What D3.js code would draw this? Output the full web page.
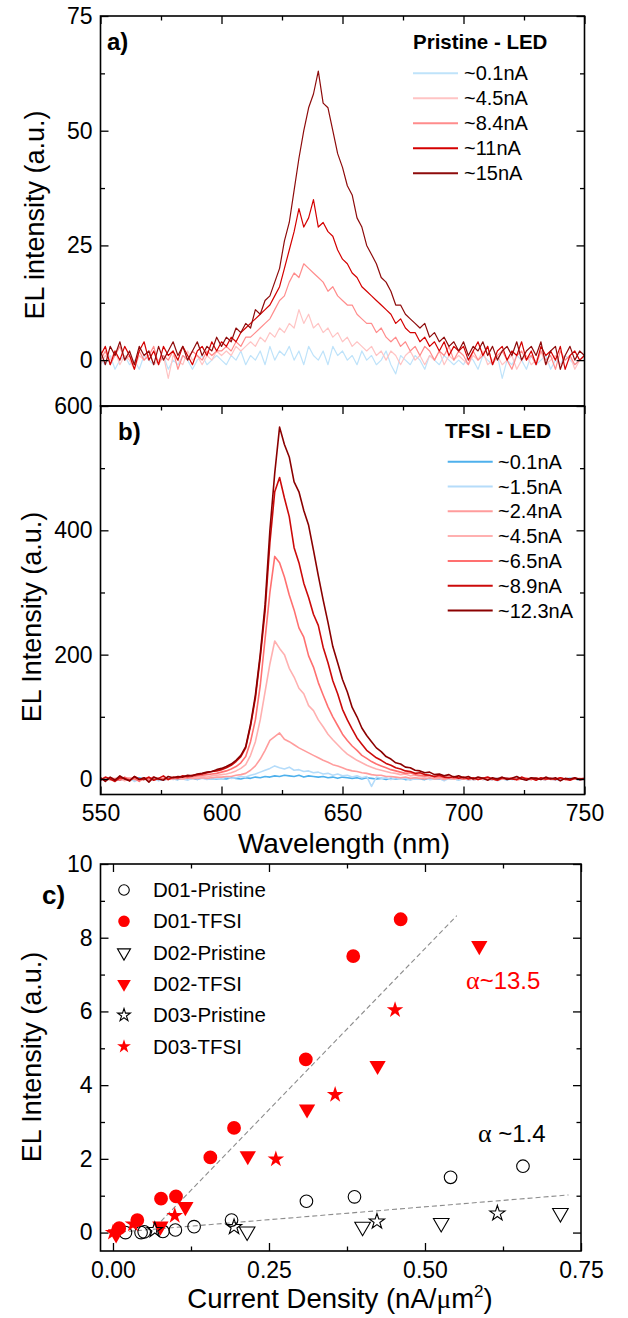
<!DOCTYPE html>
<html><head><meta charset="utf-8">
<script src="https://cdn.jsdelivr.net/npm/d3@7"></script>
<style>body{margin:0;background:#fff}svg{display:block}</style>
</head><body><svg id="chart" width="628" height="1318"></svg>
<script>
// ---------- DATA ----------
const wavelength = [550,552,554,556,558,560,562,564,566,568,570,572,574,576,578,580,582,584,586,588,590,592,594,596,598,
600,602,604,606,608,610,612,614,616,618,620,622,624,626,628,630,632,634,636,638,640,642,644,646,648,
650,652,654,656,658,660,662,664,666,668,670,672,674,676,678,680,682,684,686,688,690,692,694,696,698,
700,702,704,706,708,710,712,714,716,718,720,722,724,726,728,730,732,734,736,738,740,742,744,746,748,750];

// Panel a: Pristine LED spectra
const pristineLabels = ["~0.1nA","~4.5nA","~8.4nA","~11nA","~15nA"];
const pristineColors = ["#bfe3fa","#ffc4c4","#ff8c8c","#d40000","#8e0b0b"];
const pristine_0_1nA = [0,-1,1,-2,0,1,-1,0,-2,1,0,-1,0,1,-2,0,-1,1,0,-2,0,1,-1,0,1,
0,-1,1,0,2,-1,1,0,2,-1,3,0,2,1,3,0,2,-1,3,1,0,2,-1,3,1,2,0,1,-1,2,0,1,-1,0,2,-1,-3,1,0,-1,1,0,-2,1,0,-1,1,0,-1,0,
-1,1,0,-2,1,0,-1,1,-4,0,-1,1,0,-2,1,-1,0,1,-2,0,-1,1,0,-1,0,1];
const pristine_4_5nA = [-1,1,0,2,-1,1,0,-2,1,0,2,-1,0,1,-4,1,0,-1,2,0,1,-1,1,0,2,
1,2,1,3,2,3,4,3,5,4,6,5,7,6,8,7,11,8,10,7,8,6,7,5,6,4,5,3,4,3,2,3,1,2,0,2,1,-1,1,2,0,1,-1,1,0,2,-1,1,0,1,
0,-1,1,0,2,-1,0,1,-1,0,1,-2,0,1,-1,0,2,-1,0,1,-1,0,1,-2,0,1];
const pristine_8_4nA = [0,2,-1,1,3,0,1,-1,2,0,1,3,-1,1,0,2,-2,1,0,2,1,0,2,1,2,
2,3,2,4,3,5,5,6,7,8,9,11,13,14,17,19,18,21,20,19,18,17,15,16,14,13,12,12,10,9,8,8,6,7,5,4,5,3,4,2,3,1,3,2,0,2,1,3,0,2,
1,-1,2,0,1,3,-1,1,2,0,-2,1,2,0,1,-1,2,0,1,-2,2,0,1,-1,0,1];
const pristine_11nA = [1,3,-1,2,0,3,1,-2,2,4,0,2,-1,3,1,2,0,3,1,-1,2,3,1,4,2,
4,3,5,4,6,7,8,9,10,11,12,14,16,20,24,28,33,29,31,35,29,30,28,27,24,22,21,19,18,16,15,14,13,12,11,10,8,9,7,6,6,4,5,3,4,2,4,1,3,2,
3,0,2,4,1,3,-1,2,3,0,2,1,4,0,2,-1,3,1,2,0,3,-2,1,2,0,1];
const pristine_15nA = [2,-1,3,1,4,0,2,-1,3,1,2,-1,3,0,2,4,1,3,0,2,4,1,3,2,5,
3,5,4,7,6,8,7,11,10,13,14,17,20,26,30,37,44,50,55,58,63,56,55,50,45,42,38,36,31,29,25,23,21,18,17,15,12,12,10,9,8,7,8,5,6,4,5,3,4,2,
4,1,3,2,4,1,3,0,2,3,1,4,0,2,3,1,4,-1,2,3,-2,1,3,0,2,1];

// Panel b: TFSI LED spectra
const tfsiLabels = ["~0.1nA","~1.5nA","~2.4nA","~4.5nA","~6.5nA","~8.9nA","~12.3nA"];
const tfsiColors = ["#4eb0ec","#b5dcfa","#ff9c9c","#ffb0b0","#ff7070","#cc0a0a","#8b0000"];
const tfsi_0_1nA = [0,-1,1,0,-2,1,0,-1,2,0,-1,1,0,-2,1,0,-1,1,0,1,-1,2,0,1,0,
1,0,2,1,0,2,1,3,2,4,3,5,4,6,5,4,6,3,5,4,3,4,2,3,1,3,2,1,2,0,2,1,0,1,-1,1,0,1,-1,0,1,0,-1,1,0,0,-1,1,0,-1,
0,1,-1,0,1,0,-1,1,0,-1,0,1,0,-1,1,0,0,-1,1,0,-1,0,1,0,-1,0];
const tfsi_1_5nA = [-3,2,-1,0,3,-2,1,-4,0,2,-1,1,-3,0,2,-1,1,0,-2,2,0,1,-1,2,1,
0,3,1,2,4,3,6,8,11,14,17,21,18,16,19,14,15,12,13,10,11,8,9,6,8,5,6,3,5,2,4,-12,3,1,2,-1,2,0,1,-2,1,0,2,-1,0,1,-3,1,0,-1,
1,-2,0,2,-1,0,1,-3,0,2,-1,0,1,-2,0,1,-1,2,0,-2,1,0,-1,1,0,-1];
const tfsi_2_4nA = [-1,1,0,-2,1,0,2,-1,0,1,-2,0,1,-1,0,0,1,0,2,1,1,2,1,2,3,
3,4,4,6,7,9,14,21,32,46,62,68,74,64,60,55,50,46,42,38,34,30,27,23,21,18,15,13,12,10,9,7,6,6,4,4,3,2,3,1,2,1,0,2,0,1,-1,1,0,1,
0,1,-1,0,1,0,-1,1,0,0,1,-1,0,1,0,-1,1,0,0,-1,1,0,-1,0,1,0];
const tfsi_4_5nA = [0,2,-2,1,0,-3,2,1,-1,0,3,-2,1,0,-1,1,2,0,2,3,2,4,3,5,6,
7,8,10,13,17,23,38,60,95,140,185,222,210,200,178,164,146,137,118,110,95,84,72,63,55,47,40,35,30,26,22,19,16,14,12,10,9,7,8,5,6,4,3,5,2,3,1,2,0,2,
1,-1,0,2,-1,1,0,-2,1,0,2,-1,1,0,-1,1,0,2,-1,0,1,-1,0,1,0,-1];
const tfsi_6_5nA = [1,-3,2,0,-2,3,-1,1,-4,2,0,3,-1,1,0,2,1,3,2,4,5,6,7,8,9,
11,13,16,20,26,36,60,95,150,225,300,358,348,325,296,272,243,228,198,180,155,135,116,100,86,72,62,53,46,38,33,28,24,21,18,15,13,11,9,10,7,6,5,6,3,4,2,3,1,2,
0,2,1,-1,2,0,1,-2,1,0,2,-1,0,1,-1,2,0,-1,1,0,2,-1,0,1,-1,0];
const tfsi_8_9nA = [-2,3,0,-4,2,1,-3,4,0,-1,3,-2,1,5,-1,3,2,5,4,6,7,8,10,12,13,
15,18,22,28,36,50,85,130,195,270,380,462,485,452,422,372,348,315,292,265,247,212,187,158,137,112,95,80,66,56,46,40,34,30,25,22,18,16,13,12,9,10,7,6,4,6,3,2,4,1,
3,0,2,-1,1,3,0,-2,2,1,0,-1,3,0,1,-2,2,0,1,-1,2,0,-2,1,0,1];
const tfsi_12_3nA = [2,-4,3,-2,5,0,-3,4,-1,2,-5,3,0,-2,4,2,4,3,6,5,8,9,11,12,15,
17,20,24,30,38,52,88,135,200,280,400,492,566,538,518,478,462,432,408,368,327,288,252,213,187,160,140,115,100,82,70,60,50,44,36,32,26,24,19,18,14,13,10,11,7,8,5,7,3,5,
2,4,0,3,1,-2,2,0,3,-1,1,4,0,-2,2,1,-1,3,0,2,-3,1,0,2,-1,0];

// Panel c: EL intensity vs current density  [current density, EL intensity]
const seriesNamesC = ["D01-Pristine","D01-TFSI","D02-Pristine","D02-TFSI","D03-Pristine","D03-TFSI"];
const d01Pristine = [[0.02,0.0],[0.045,0.0],[0.05,0.02],[0.08,0.03],[0.10,0.07],[0.13,0.16],[0.19,0.34],[0.31,0.85],[0.387,0.97],[0.541,1.5],[0.657,1.8]];
const d01TFSI = [[0.01,0.12],[0.039,0.34],[0.077,0.92],[0.101,0.98],[0.156,2.04],[0.194,2.84],[0.309,4.7],[0.385,7.5],[0.461,8.5]];
const d02Pristine = [[0.215,0.03],[0.40,0.16],[0.526,0.26],[0.717,0.53]];
const d02TFSI = [[0.005,-0.04],[0.076,0.17],[0.116,0.70],[0.216,2.08],[0.311,3.35],[0.424,4.53],[0.587,7.78]];
const d03Pristine = [[0.067,0.07],[0.194,0.15],[0.423,0.30],[0.616,0.52]];
const d03TFSI = [[0.0,0.0],[0.032,0.23],[0.099,0.46],[0.261,1.99],[0.356,3.74],[0.452,6.04]];
const fitTFSI = [[0.068,0.15],[0.551,8.6]];
const fitPristine = [[0.0,0.0],[0.73,1.02]];

// tick values / labels
const specXMajor = [550,600,650,700,750];
const specXMinor = [575,625,675,725];
const aYMajor = [0,25,50,75];
const aYMinor = [12.5,37.5,62.5];
const bYMajor = [0,200,400,600];
const bYMinor = [100,300,500];
const cXMajor = [0,0.25,0.5,0.75];
const cXMinor = [0.125,0.375,0.625];
const cYMajor = [0,2,4,6,8,10];
const cYMinor = [1,3,5,7,9];

// ---------- DRAW ----------
const FONT = '"Liberation Sans", Arial, Helvetica, sans-serif';
const svg = d3.select("#chart");
svg.append("rect").attr("width",628).attr("height",1318).attr("fill","#fff");

const xA = d3.scaleLinear().domain([550,750]).range([100.5,584.5]);
const yA = d3.scaleLinear().domain([-10,75]).range([406,16]);
const xB = xA.copy();
const yB = d3.scaleLinear().domain([-25,600]).range([794.5,406]);
const xC = d3.scaleLinear().domain([-0.02,0.75]).range([100.5,581]);
const yC = d3.scaleLinear().domain([-0.5,10]).range([1251,864]);

function styleAxis(g){
  g.select(".domain").remove();
  g.selectAll("line").attr("stroke","#000").attr("stroke-width",1.3);
  g.selectAll("text").attr("font-family",FONT).attr("font-size",23).attr("fill","#000");
}
function axes(x, y, o){
  const [x0,x1] = x.range(), [y0,y1] = y.range();
  const sides = o.sides;
  if (sides.includes("left")) {
    const g = svg.append("g").attr("transform",`translate(${x0},0)`);
    g.call(d3.axisLeft(y).tickValues(o.yMajor).tickSize(-8).tickPadding(8).tickFormat(o.yFmt||(()=>"")));
    styleAxis(g);
    const gm = svg.append("g").attr("transform",`translate(${x0},0)`);
    gm.call(d3.axisLeft(y).tickValues(o.yMinor).tickSize(-4.5).tickFormat(""));
    styleAxis(gm);
  }
  if (sides.includes("right")) {
    const g = svg.append("g").attr("transform",`translate(${x1},0)`);
    g.call(d3.axisRight(y).tickValues(o.yMajor).tickSize(-8).tickFormat(""));
    styleAxis(g);
    const gm = svg.append("g").attr("transform",`translate(${x1},0)`);
    gm.call(d3.axisRight(y).tickValues(o.yMinor).tickSize(-4.5).tickFormat(""));
    styleAxis(gm);
  }
  if (sides.includes("top")) {
    const g = svg.append("g").attr("transform",`translate(0,${y1})`);
    g.call(d3.axisTop(x).tickValues(o.xMajor).tickSize(-8).tickFormat(""));
    styleAxis(g);
    const gm = svg.append("g").attr("transform",`translate(0,${y1})`);
    gm.call(d3.axisTop(x).tickValues(o.xMinor).tickSize(-4.5).tickFormat(""));
    styleAxis(gm);
  }
  if (sides.includes("bottom")) {
    const g = svg.append("g").attr("transform",`translate(0,${y0})`);
    g.call(d3.axisBottom(x).tickValues(o.xMajor).tickSize(-8).tickPadding(o.xPad||10).tickFormat(o.xFmt||(()=>"")));
    styleAxis(g);
    const gm = svg.append("g").attr("transform",`translate(0,${y0})`);
    gm.call(d3.axisBottom(x).tickValues(o.xMinor).tickSize(-4.5).tickFormat(""));
    styleAxis(gm);
  }
  svg.append("rect").attr("x",x0).attr("y",y1).attr("width",x1-x0).attr("height",y0-y1)
    .attr("fill","none").attr("stroke","#000").attr("stroke-width",1.6);
}
function clip(id, x, y){
  const [x0,x1] = x.range(), [y0,y1] = y.range();
  svg.append("clipPath").attr("id",id).append("rect").attr("x",x0).attr("y",y1).attr("width",x1-x0).attr("height",y0-y1);
}
function text(x,y,s,size,opt={}){
  const t = svg.append("text").attr("x",x).attr("y",y).attr("font-family",FONT).attr("font-size",size)
    .attr("fill",opt.fill||"#000").attr("font-weight",opt.bold?"bold":"normal").text(s);
  if (opt.anchor) t.attr("text-anchor",opt.anchor);
  return t;
}
function yTitle(cx, cy, s){
  svg.append("text").attr("transform",`translate(${cx},${cy}) rotate(-90)`).attr("text-anchor","middle")
    .attr("font-family",FONT).attr("font-size",27).attr("fill","#000").text(s);
}

// ---- Panel a ----
clip("clipA", xA, yA);
const pristineSeries = [pristine_0_1nA, pristine_4_5nA, pristine_8_4nA, pristine_11nA, pristine_15nA];
const lineA = d3.line().x((d,i)=>xA(wavelength[i])).y(d=>yA(d));
const gA = svg.append("g").attr("clip-path","url(#clipA)");
pristineSeries.forEach((s,k)=>{
  gA.append("path").attr("d",lineA(s)).attr("fill","none").attr("stroke",pristineColors[k])
    .attr("stroke-width",1.2).attr("stroke-linejoin","round");
});
axes(xA, yA, {sides:["left","right","top"], xMajor:specXMajor, xMinor:specXMinor, yMajor:aYMajor, yMinor:aYMinor, yFmt:d=>d});
yTitle(44, 215, "EL intensity (a.u.)");
text(107, 50, "a)", 24, {bold:true});
text(413, 49, "Pristine - LED", 20.5, {bold:true});
pristineLabels.forEach((lab,k)=>{
  const yy = 73.3 + 25*k;
  svg.append("line").attr("x1",413).attr("x2",458).attr("y1",yy).attr("y2",yy)
    .attr("stroke",pristineColors[k]).attr("stroke-width",2);
  text(464, yy+7, lab, 20);
});

// ---- Panel b ----
clip("clipB", xB, yB);
const tfsiSeries = [tfsi_0_1nA, tfsi_1_5nA, tfsi_2_4nA, tfsi_4_5nA, tfsi_6_5nA, tfsi_8_9nA, tfsi_12_3nA];
const lineB = d3.line().x((d,i)=>xB(wavelength[i])).y(d=>yB(d));
const gB = svg.append("g").attr("clip-path","url(#clipB)");
tfsiSeries.forEach((s,k)=>{
  gB.append("path").attr("d",lineB(s)).attr("fill","none").attr("stroke",tfsiColors[k])
    .attr("stroke-width",1.6).attr("stroke-linejoin","round");
});
axes(xB, yB, {sides:["left","right","top","bottom"], xMajor:specXMajor, xMinor:specXMinor, yMajor:bYMajor, yMinor:bYMinor, yFmt:d=>d, xFmt:d=>d, xPad:10});
yTitle(41, 617, "EL Intensity (a.u.)");
text(344, 853, "Wavelength (nm)", 28, {anchor:"middle"});
text(118, 440, "b)", 24, {bold:true});
text(445, 437.5, "TFSI - LED", 21, {bold:true});
tfsiLabels.forEach((lab,k)=>{
  const yy = 461.7 + 24.8*k;
  svg.append("line").attr("x1",447.7).attr("x2",492.7).attr("y1",yy).attr("y2",yy)
    .attr("stroke",tfsiColors[k]).attr("stroke-width",2);
  text(498, yy+7, lab, 20);
});

// ---- Panel c ----
axes(xC, yC, {sides:["left","right","top","bottom"], xMajor:cXMajor, xMinor:cXMinor, yMajor:cYMajor, yMinor:cYMinor,
  yFmt:d=>d, xFmt:d3.format(".2f"), xPad:11});
const lineC = d3.line().x(d=>xC(d[0])).y(d=>yC(d[1]));
[fitTFSI, fitPristine].forEach(f=>{
  svg.append("path").attr("d",lineC(f)).attr("fill","none").attr("stroke","#8c8c8c")
    .attr("stroke-width",1.1).attr("stroke-dasharray","5,3");
});
const markerDefs = [
  {data:d01Pristine, type:d3.symbolCircle, size:125, filled:false, rot:0},
  {data:d01TFSI, type:d3.symbolCircle, size:150, filled:true, rot:0},
  {data:d02Pristine, type:d3.symbolTriangle, size:105, filled:false, rot:180},
  {data:d02TFSI, type:d3.symbolTriangle, size:115, filled:true, rot:180},
  {data:d03Pristine, type:d3.symbolStar, size:72, filled:false, rot:0},
  {data:d03TFSI, type:d3.symbolStar, size:85, filled:true, rot:0}
];
markerDefs.forEach(m=>{
  const sym = d3.symbol().type(m.type).size(m.size);
  svg.append("g").selectAll("path").data(m.data).join("path")
    .attr("d",sym())
    .attr("transform",d=>`translate(${xC(d[0])},${yC(d[1])}) rotate(${m.rot})`)
    .attr("fill",m.filled?"#ff0000":"none")
    .attr("stroke",m.filled?"none":"#000").attr("stroke-width",1.1);
});
// legend c
seriesNamesC.forEach((name,k)=>{
  const m = markerDefs[k];
  const yy = 890 + 31.3*k;
  const sym = d3.symbol().type(m.type).size(m.size*0.7);
  svg.append("path").attr("d",sym()).attr("transform",`translate(124,${yy}) rotate(${m.rot})`)
    .attr("fill",m.filled?"#ff0000":"none").attr("stroke",m.filled?"none":"#000").attr("stroke-width",1.1);
  text(153, yy+7, name, 20.5);
});
yTitle(41, 1057, "EL Intensity (a.u.)");
const ct = svg.append("text").attr("x",340).attr("y",1308).attr("text-anchor","middle")
  .attr("font-family",FONT).attr("font-size",27.5).attr("fill","#000");
ct.append("tspan").text("Current Density (nA/");
ct.append("tspan").attr("font-family",'"Liberation Serif", serif').text("μ");
ct.append("tspan").text("m");
ct.append("tspan").attr("font-size",17).attr("dy",-11).text("2");
ct.append("tspan").attr("dy",11).text(")");
text(42, 904, "c)", 26, {bold:true});
const a1 = svg.append("text").attr("x",466).attr("y",989).attr("font-family",FONT).attr("font-size",24).attr("fill","#ff0000");
a1.append("tspan").attr("font-family",'"Liberation Serif", serif').attr("font-size",26).text("α");
a1.append("tspan").text("~13.5");
const a2 = svg.append("text").attr("x",478).attr("y",1142).attr("font-family",FONT).attr("font-size",24).attr("fill","#000");
a2.append("tspan").attr("font-family",'"Liberation Serif", serif').attr("font-size",26).text("α");
a2.append("tspan").text(" ~1.4");
</script></body></html>
